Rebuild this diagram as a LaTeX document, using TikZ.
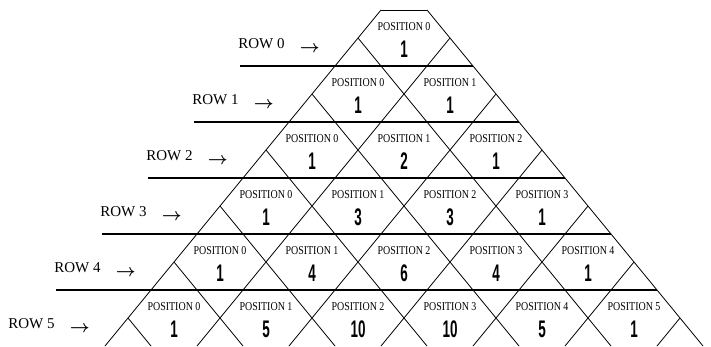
\documentclass[tikz,border=0pt]{standalone}
\usepackage{fontspec}
\setmainfont{Liberation Serif}
\newfontfamily\numfont[FakeStretch=0.56]{Liberation Sans}
\newfontfamily\posfont[FakeStretch=0.83]{Liberation Serif}
\usetikzlibrary{positioning}

\begin{document}
\begin{tikzpicture}[
  x=46pt, y=56pt,
  rowline/.style={line width=1.8pt},
  grid/.style={line width=0.8pt},
  rowlabel/.style={font=\fontsize{15}{15}\selectfont, inner sep=0pt},
  rowarrow/.style={font=\boldmath\fontsize{17}{17}\selectfont, inner sep=0pt},
  poslabel/.style={font=\posfont\fontsize{12}{12}\selectfont, inner sep=0pt},
  numlabel/.style={font=\numfont\bfseries\fontsize{24}{24}\selectfont, inner sep=0pt}
]
  \useasboundingbox (-381pt,10pt) rectangle (330pt,-336pt);
  \coordinate (apexL) at (0,0);
  \coordinate (apexR) at (1,0);
  \draw[grid] (apexL) -- (apexR);
  \draw[grid] (apexL) -- (-6,-6);
  \draw[grid] (apexR) -- (7,-6);
  \foreach \c in {1,3,...,11}
    \draw[grid] (-\c/2,-\c/2) -- (6-\c,-6);
  \foreach \c in {2,4,...,12}
    \draw[grid] ({(1+\c)/2},{(1-\c)/2}) -- (\c-6,-6);
  \foreach \k in {0,...,4}
    \draw[rowline] (-3.07-\k,-1-\k) -- (2+\k,-1-\k);
  \foreach \k/\vals in {0/{1}, 1/{1,1}, 2/{1,2,1}, 3/{1,3,3,1}, 4/{1,4,6,4,1}, 5/{1,5,10,10,5,1}} {
    \node[rowlabel] (row\k) at (-2.6-\k,-0.6-\k) {ROW \k};
    \node[rowarrow] (arrow\k) at (-1.55-\k,-0.7-\k) {$\rightarrow$};
    \foreach \v [count=\j from 0] in \vals {
      \node[poslabel] (pos\k\j) at (0.5-\k+2*\j,-0.3-\k) {POSITION \j};
      \node[numlabel] (num\k\j) at (0.5-\k+2*\j,-0.7-\k) {\v};
    }
  }
\end{tikzpicture}
\end{document}
